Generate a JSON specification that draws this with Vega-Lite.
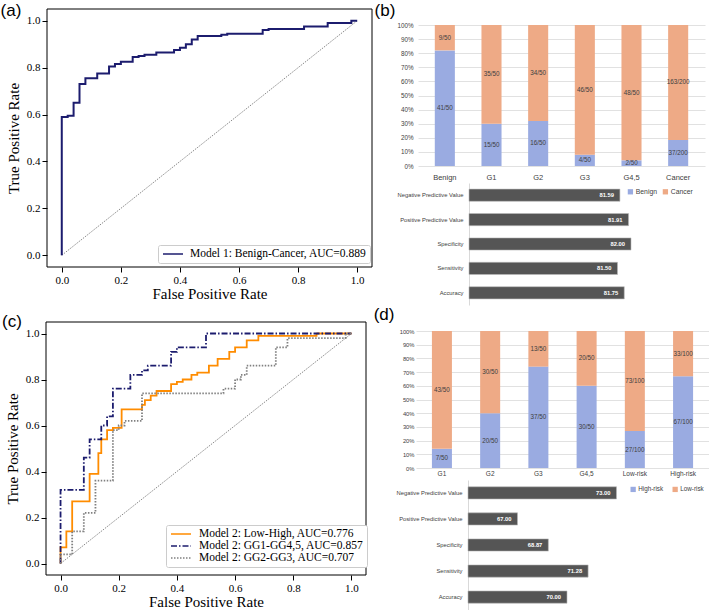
{
  "$schema": "https://vega.github.io/schema/vega-lite/v6.json",
  "width": 709,
  "height": 610,
  "autosize": {"type": "none"},
  "padding": 0,
  "background": "white",
  "config": {"view": {"stroke": null}},
  "datasets": {
    "one": [{"k": 1}],
    "diag": [{"x": 0, "y": 0}, {"x": 1, "y": 1}],
    "roc_a": [
      {"i": 0, "x": 0, "y": 0, "model": "Model 1: Benign-Cancer, AUC=0.889"},
      {"i": 1, "x": 0, "y": 0.59, "model": "Model 1: Benign-Cancer, AUC=0.889"},
      {"i": 2, "x": 0.02, "y": 0.595, "model": "Model 1: Benign-Cancer, AUC=0.889"},
      {"i": 3, "x": 0.04, "y": 0.65, "model": "Model 1: Benign-Cancer, AUC=0.889"},
      {"i": 4, "x": 0.06, "y": 0.73, "model": "Model 1: Benign-Cancer, AUC=0.889"},
      {"i": 5, "x": 0.08, "y": 0.755, "model": "Model 1: Benign-Cancer, AUC=0.889"},
      {"i": 6, "x": 0.12, "y": 0.775, "model": "Model 1: Benign-Cancer, AUC=0.889"},
      {"i": 7, "x": 0.16, "y": 0.805, "model": "Model 1: Benign-Cancer, AUC=0.889"},
      {"i": 8, "x": 0.18, "y": 0.815, "model": "Model 1: Benign-Cancer, AUC=0.889"},
      {"i": 9, "x": 0.2, "y": 0.825, "model": "Model 1: Benign-Cancer, AUC=0.889"},
      {"i": 10, "x": 0.24, "y": 0.845, "model": "Model 1: Benign-Cancer, AUC=0.889"},
      {"i": 11, "x": 0.26, "y": 0.85, "model": "Model 1: Benign-Cancer, AUC=0.889"},
      {"i": 12, "x": 0.28, "y": 0.855, "model": "Model 1: Benign-Cancer, AUC=0.889"},
      {"i": 13, "x": 0.32, "y": 0.865, "model": "Model 1: Benign-Cancer, AUC=0.889"},
      {"i": 14, "x": 0.38, "y": 0.875, "model": "Model 1: Benign-Cancer, AUC=0.889"},
      {"i": 15, "x": 0.4, "y": 0.885, "model": "Model 1: Benign-Cancer, AUC=0.889"},
      {"i": 16, "x": 0.42, "y": 0.9, "model": "Model 1: Benign-Cancer, AUC=0.889"},
      {"i": 17, "x": 0.44, "y": 0.92, "model": "Model 1: Benign-Cancer, AUC=0.889"},
      {"i": 18, "x": 0.46, "y": 0.935, "model": "Model 1: Benign-Cancer, AUC=0.889"},
      {"i": 19, "x": 0.54, "y": 0.94, "model": "Model 1: Benign-Cancer, AUC=0.889"},
      {"i": 20, "x": 0.56, "y": 0.945, "model": "Model 1: Benign-Cancer, AUC=0.889"},
      {"i": 21, "x": 0.68, "y": 0.96, "model": "Model 1: Benign-Cancer, AUC=0.889"},
      {"i": 22, "x": 0.7, "y": 0.965, "model": "Model 1: Benign-Cancer, AUC=0.889"},
      {"i": 23, "x": 0.82, "y": 0.975, "model": "Model 1: Benign-Cancer, AUC=0.889"},
      {"i": 24, "x": 0.9, "y": 0.99, "model": "Model 1: Benign-Cancer, AUC=0.889"},
      {"i": 25, "x": 0.98, "y": 1.0, "model": "Model 1: Benign-Cancer, AUC=0.889"},
      {"i": 26, "x": 1.0, "y": 1.0, "model": "Model 1: Benign-Cancer, AUC=0.889"}
    ],
    "roc_c": [
      {"i": 0, "x": 0, "y": 0, "model": "Model 2: Low-High, AUC=0.776"},
      {"i": 1, "x": 0, "y": 0.07, "model": "Model 2: Low-High, AUC=0.776"},
      {"i": 2, "x": 0.02, "y": 0.14, "model": "Model 2: Low-High, AUC=0.776"},
      {"i": 3, "x": 0.04, "y": 0.27, "model": "Model 2: Low-High, AUC=0.776"},
      {"i": 4, "x": 0.1, "y": 0.39, "model": "Model 2: Low-High, AUC=0.776"},
      {"i": 5, "x": 0.13, "y": 0.48, "model": "Model 2: Low-High, AUC=0.776"},
      {"i": 6, "x": 0.14, "y": 0.54, "model": "Model 2: Low-High, AUC=0.776"},
      {"i": 7, "x": 0.16, "y": 0.58, "model": "Model 2: Low-High, AUC=0.776"},
      {"i": 8, "x": 0.18, "y": 0.59, "model": "Model 2: Low-High, AUC=0.776"},
      {"i": 9, "x": 0.21, "y": 0.67, "model": "Model 2: Low-High, AUC=0.776"},
      {"i": 10, "x": 0.28, "y": 0.69, "model": "Model 2: Low-High, AUC=0.776"},
      {"i": 11, "x": 0.29, "y": 0.71, "model": "Model 2: Low-High, AUC=0.776"},
      {"i": 12, "x": 0.31, "y": 0.73, "model": "Model 2: Low-High, AUC=0.776"},
      {"i": 13, "x": 0.33, "y": 0.75, "model": "Model 2: Low-High, AUC=0.776"},
      {"i": 14, "x": 0.38, "y": 0.78, "model": "Model 2: Low-High, AUC=0.776"},
      {"i": 15, "x": 0.4, "y": 0.79, "model": "Model 2: Low-High, AUC=0.776"},
      {"i": 16, "x": 0.42, "y": 0.8, "model": "Model 2: Low-High, AUC=0.776"},
      {"i": 17, "x": 0.45, "y": 0.82, "model": "Model 2: Low-High, AUC=0.776"},
      {"i": 18, "x": 0.47, "y": 0.83, "model": "Model 2: Low-High, AUC=0.776"},
      {"i": 19, "x": 0.51, "y": 0.86, "model": "Model 2: Low-High, AUC=0.776"},
      {"i": 20, "x": 0.54, "y": 0.89, "model": "Model 2: Low-High, AUC=0.776"},
      {"i": 21, "x": 0.58, "y": 0.92, "model": "Model 2: Low-High, AUC=0.776"},
      {"i": 22, "x": 0.6, "y": 0.94, "model": "Model 2: Low-High, AUC=0.776"},
      {"i": 23, "x": 0.64, "y": 0.97, "model": "Model 2: Low-High, AUC=0.776"},
      {"i": 24, "x": 0.68, "y": 0.99, "model": "Model 2: Low-High, AUC=0.776"},
      {"i": 25, "x": 0.88, "y": 1.0, "model": "Model 2: Low-High, AUC=0.776"},
      {"i": 26, "x": 1.0, "y": 1.0, "model": "Model 2: Low-High, AUC=0.776"},
      {"i": 0, "x": 0, "y": 0, "model": "Model 2: GG1-GG4,5, AUC=0.857"},
      {"i": 1, "x": 0, "y": 0.32, "model": "Model 2: GG1-GG4,5, AUC=0.857"},
      {"i": 2, "x": 0.08, "y": 0.46, "model": "Model 2: GG1-GG4,5, AUC=0.857"},
      {"i": 3, "x": 0.1, "y": 0.54, "model": "Model 2: GG1-GG4,5, AUC=0.857"},
      {"i": 4, "x": 0.14, "y": 0.6, "model": "Model 2: GG1-GG4,5, AUC=0.857"},
      {"i": 5, "x": 0.16, "y": 0.64, "model": "Model 2: GG1-GG4,5, AUC=0.857"},
      {"i": 6, "x": 0.18, "y": 0.76, "model": "Model 2: GG1-GG4,5, AUC=0.857"},
      {"i": 7, "x": 0.24, "y": 0.82, "model": "Model 2: GG1-GG4,5, AUC=0.857"},
      {"i": 8, "x": 0.28, "y": 0.84, "model": "Model 2: GG1-GG4,5, AUC=0.857"},
      {"i": 9, "x": 0.3, "y": 0.86, "model": "Model 2: GG1-GG4,5, AUC=0.857"},
      {"i": 10, "x": 0.38, "y": 0.92, "model": "Model 2: GG1-GG4,5, AUC=0.857"},
      {"i": 11, "x": 0.4, "y": 0.94, "model": "Model 2: GG1-GG4,5, AUC=0.857"},
      {"i": 12, "x": 0.5, "y": 1.0, "model": "Model 2: GG1-GG4,5, AUC=0.857"},
      {"i": 13, "x": 1.0, "y": 1.0, "model": "Model 2: GG1-GG4,5, AUC=0.857"},
      {"i": 0, "x": 0, "y": 0, "model": "Model 2: GG2-GG3, AUC=0.707"},
      {"i": 1, "x": 0, "y": 0.04, "model": "Model 2: GG2-GG3, AUC=0.707"},
      {"i": 2, "x": 0.04, "y": 0.14, "model": "Model 2: GG2-GG3, AUC=0.707"},
      {"i": 3, "x": 0.08, "y": 0.22, "model": "Model 2: GG2-GG3, AUC=0.707"},
      {"i": 4, "x": 0.12, "y": 0.36, "model": "Model 2: GG2-GG3, AUC=0.707"},
      {"i": 5, "x": 0.18, "y": 0.58, "model": "Model 2: GG2-GG3, AUC=0.707"},
      {"i": 6, "x": 0.2, "y": 0.6, "model": "Model 2: GG2-GG3, AUC=0.707"},
      {"i": 7, "x": 0.22, "y": 0.62, "model": "Model 2: GG2-GG3, AUC=0.707"},
      {"i": 8, "x": 0.28, "y": 0.74, "model": "Model 2: GG2-GG3, AUC=0.707"},
      {"i": 9, "x": 0.56, "y": 0.76, "model": "Model 2: GG2-GG3, AUC=0.707"},
      {"i": 10, "x": 0.6, "y": 0.8, "model": "Model 2: GG2-GG3, AUC=0.707"},
      {"i": 11, "x": 0.62, "y": 0.82, "model": "Model 2: GG2-GG3, AUC=0.707"},
      {"i": 12, "x": 0.64, "y": 0.86, "model": "Model 2: GG2-GG3, AUC=0.707"},
      {"i": 13, "x": 0.74, "y": 0.94, "model": "Model 2: GG2-GG3, AUC=0.707"},
      {"i": 14, "x": 0.78, "y": 0.98, "model": "Model 2: GG2-GG3, AUC=0.707"},
      {"i": 15, "x": 0.98, "y": 1.0, "model": "Model 2: GG2-GG3, AUC=0.707"},
      {"i": 16, "x": 1.0, "y": 1.0, "model": "Model 2: GG2-GG3, AUC=0.707"}
    ],
    "b_stack": [
      {"cat": "Benign", "pred": "Benign", "n": 41, "total": 50},
      {"cat": "Benign", "pred": "Cancer", "n": 9, "total": 50},
      {"cat": "G1", "pred": "Benign", "n": 15, "total": 50},
      {"cat": "G1", "pred": "Cancer", "n": 35, "total": 50},
      {"cat": "G2", "pred": "Benign", "n": 16, "total": 50},
      {"cat": "G2", "pred": "Cancer", "n": 34, "total": 50},
      {"cat": "G3", "pred": "Benign", "n": 4, "total": 50},
      {"cat": "G3", "pred": "Cancer", "n": 46, "total": 50},
      {"cat": "G4,5", "pred": "Benign", "n": 2, "total": 50},
      {"cat": "G4,5", "pred": "Cancer", "n": 48, "total": 50},
      {"cat": "Cancer", "pred": "Benign", "n": 37, "total": 200},
      {"cat": "Cancer", "pred": "Cancer", "n": 163, "total": 200}
    ],
    "b_metrics": [
      {"metric": "Negative Predictive Value", "value": 81.59},
      {"metric": "Positive Predictive Value", "value": 81.91},
      {"metric": "Specificity", "value": 82.0},
      {"metric": "Sensitivity", "value": 81.5},
      {"metric": "Accuracy", "value": 81.75}
    ],
    "d_stack": [
      {"cat": "G1", "pred": "High-risk", "n": 7, "total": 50},
      {"cat": "G1", "pred": "Low-risk", "n": 43, "total": 50},
      {"cat": "G2", "pred": "High-risk", "n": 20, "total": 50},
      {"cat": "G2", "pred": "Low-risk", "n": 30, "total": 50},
      {"cat": "G3", "pred": "High-risk", "n": 37, "total": 50},
      {"cat": "G3", "pred": "Low-risk", "n": 13, "total": 50},
      {"cat": "G4,5", "pred": "High-risk", "n": 30, "total": 50},
      {"cat": "G4,5", "pred": "Low-risk", "n": 20, "total": 50},
      {"cat": "Low-risk", "pred": "High-risk", "n": 27, "total": 100},
      {"cat": "Low-risk", "pred": "Low-risk", "n": 73, "total": 100},
      {"cat": "High-risk", "pred": "High-risk", "n": 67, "total": 100},
      {"cat": "High-risk", "pred": "Low-risk", "n": 33, "total": 100}
    ],
    "d_metrics": [
      {"metric": "Negative Predictive Value", "value": 73.0},
      {"metric": "Positive Predictive Value", "value": 67.0},
      {"metric": "Specificity", "value": 68.87},
      {"metric": "Sensitivity", "value": 71.28},
      {"metric": "Accuracy", "value": 70.0}
    ]
  },
  "layer": [
    {
      "layer": [
        {
          "data": {"name": "one"},
          "mark": {"type": "rect", "fill": "transparent", "stroke": "black", "strokeWidth": 1},
          "encoding": {
            "x": {"datum": -0.05, "type": "quantitative",
              "scale": {"domain": [-0.05, 1.05], "range": [47, 372], "nice": false, "zero": false},
              "axis": {"orient": "bottom", "offset": -343, "values": [0, 0.2, 0.4, 0.6, 0.8, 1], "format": ".1f", "domain": false, "grid": false, "tickSize": 5, "tickColor": "black", "labelFont": "Liberation Serif", "labelFontSize": 11, "labelColor": "black", "labelPadding": 2, "labelFlush": false, "title": "False Positive Rate", "titleFont": "Liberation Serif", "titleFontSize": 15, "titleFontWeight": "normal", "titleColor": "black", "titlePadding": 1}},
            "x2": {"datum": 1.05},
            "y": {"datum": -0.05, "type": "quantitative",
              "scale": {"domain": [-0.05, 1.05], "range": [267, 9], "nice": false, "zero": false},
              "axis": {"orient": "left", "offset": -47, "values": [0, 0.2, 0.4, 0.6, 0.8, 1], "format": ".1f", "domain": false, "grid": false, "tickSize": 5, "tickColor": "black", "labelFont": "Liberation Serif", "labelFontSize": 11, "labelColor": "black", "labelPadding": 2, "labelFlush": false, "minExtent": 0, "title": "True Positive Rate", "titleFont": "Liberation Serif", "titleFontSize": 15, "titleFontWeight": "normal", "titleColor": "black", "titlePadding": 5}},
            "y2": {"datum": 1.05}
          }
        },
        {
          "data": {"name": "diag"},
          "mark": {"type": "line", "color": "#555555", "strokeWidth": 0.7, "strokeDash": [1.5, 1.2]},
          "encoding": {
            "x": {"field": "x", "type": "quantitative"},
            "y": {"field": "y", "type": "quantitative"}
          }
        },
        {
          "data": {"name": "roc_a"},
          "mark": {"type": "line", "interpolate": "step-after", "strokeWidth": 2},
          "encoding": {
            "x": {"field": "x", "type": "quantitative"},
            "y": {"field": "y", "type": "quantitative"},
            "order": {"field": "i", "type": "quantitative"},
            "color": {"field": "model", "type": "nominal", "scale": {"range": ["#1c1c6e"]},
              "legend": {"orient": "none", "legendX": 158, "legendY": 245, "title": null, "strokeColor": "#cccccc", "fillColor": "white", "padding": 3, "cornerRadius": 2, "symbolType": "M-0.8,0H3.2", "symbolSize": 100, "symbolStrokeWidth": 1.5, "labelFont": "Liberation Serif", "labelFontSize": 11.5, "labelColor": "black", "labelOffset": 17, "labelLimit": 400}}
          }
        },
        {
          "data": {"name": "one"},
          "mark": {"type": "text", "font": "Liberation Sans", "fontSize": 17, "align": "center", "baseline": "middle", "color": "black"},
          "encoding": {
            "x": {"datum": -0.172, "type": "quantitative"},
            "y": {"datum": 1.043, "type": "quantitative"},
            "text": {"value": "(a)"}
          }
        },
        {
          "data": {"name": "one"},
          "mark": {"type": "text", "font": "Liberation Sans", "fontSize": 17, "align": "center", "baseline": "middle", "color": "black"},
          "encoding": {
            "x": {"datum": 1.094, "type": "quantitative"},
            "y": {"datum": 1.04, "type": "quantitative"},
            "text": {"value": "(b)"}
          }
        }
      ]
    },
    {
      "data": {"name": "b_stack"},
      "layer": [
        {
          "mark": {"type": "bar"},
          "encoding": {
            "x": {"field": "cat", "type": "nominal", "sort": null,
              "scale": {"domain": ["Benign", "G1", "G2", "G3", "G4,5", "Cancer"], "range": [418, 705], "paddingInner": 0.57, "paddingOuter": 0.36},
              "axis": {"orient": "bottom", "offset": -444, "domain": false, "ticks": false, "grid": false, "labelAngle": 0, "labelFont": "Liberation Sans", "labelFontSize": 7.5, "labelColor": "#404040", "labelPadding": 7, "title": null}},
            "y": {"field": "n", "type": "quantitative", "stack": "normalize",
              "scale": {"domain": [0, 1], "range": [166, 25], "nice": false},
              "axis": {"orient": "left", "offset": -418, "values": [0, 0.1, 0.2, 0.3, 0.4, 0.5, 0.6, 0.7, 0.8, 0.9, 1], "format": ".0%", "domain": false, "ticks": false, "grid": true, "gridColor": "#d9d9d9", "gridWidth": 0.8, "labelFont": "Liberation Sans", "labelFontSize": 6.3, "labelColor": "#404040", "labelPadding": 5, "labelFlush": false, "minExtent": 0, "title": null}},
            "order": {"field": "pred", "type": "nominal", "sort": "ascending"},
            "color": {"field": "pred", "type": "nominal",
              "scale": {"domain": ["Benign", "Cancer"], "range": ["#9aabe1", "#eeaa86"]},
              "legend": {"orient": "none", "legendX": 627, "legendY": 188, "direction": "horizontal", "title": null, "symbolType": "square", "symbolSize": 28, "symbolStrokeWidth": 0, "labelFont": "Liberation Sans", "labelFontSize": 6.8, "labelColor": "#404040", "columnPadding": 5, "labelOffset": 2}}
          }
        },
        {
          "transform": [
            {"stack": "n", "groupby": ["cat"], "sort": [{"field": "pred", "order": "ascending"}], "offset": "normalize", "as": ["s0", "s1"]},
            {"calculate": "(datum.s0 + datum.s1) / 2", "as": "mid"},
            {"calculate": "datum.n + '/' + datum.total", "as": "lbl"}
          ],
          "mark": {"type": "text", "font": "Liberation Sans", "fontSize": 6.3, "color": "#404040", "baseline": "middle"},
          "encoding": {
            "x": {"field": "cat", "type": "nominal", "sort": null},
            "y": {"field": "mid", "type": "quantitative"},
            "text": {"field": "lbl"}
          }
        }
      ]
    },
    {
      "data": {"name": "b_metrics"},
      "layer": [
        {
          "mark": {"type": "bar", "color": "#555555", "stroke": "#bbbbbb", "strokeWidth": 0.6},
          "encoding": {
            "y": {"field": "metric", "type": "nominal", "sort": null,
              "scale": {"domain": ["Negative Predictive Value", "Positive Predictive Value", "Specificity", "Sensitivity", "Accuracy"], "range": [183, 305], "paddingInner": 0.5, "paddingOuter": 0.25},
              "axis": {"orient": "left", "offset": -469, "domain": true, "domainColor": "#d9d9d9", "ticks": false, "grid": false, "labelFont": "Liberation Sans", "labelFontSize": 5.8, "labelColor": "#404040", "labelPadding": 6, "minExtent": 0, "title": null}},
            "x": {"field": "value", "type": "quantitative",
              "scale": {"domain": [76, 84], "range": [469, 685], "nice": false, "zero": false}, "axis": null},
            "x2": {"datum": 76}
          }
        },
        {
          "mark": {"type": "text", "align": "right", "dx": -6, "baseline": "middle", "color": "white", "fontWeight": "bold", "font": "Liberation Sans", "fontSize": 5.8},
          "encoding": {
            "y": {"field": "metric", "type": "nominal", "sort": null},
            "x": {"field": "value", "type": "quantitative", "axis": null},
            "text": {"field": "value", "type": "quantitative", "format": ".2f"}
          }
        }
      ]
    },
    {
      "layer": [
        {
          "data": {"name": "one"},
          "mark": {"type": "rect", "fill": "transparent", "stroke": "black", "strokeWidth": 1},
          "encoding": {
            "x": {"datum": -0.05, "type": "quantitative",
              "scale": {"domain": [-0.05, 1.05], "range": [46, 366], "nice": false, "zero": false},
              "axis": {"orient": "bottom", "offset": -35, "values": [0, 0.2, 0.4, 0.6, 0.8, 1], "format": ".1f", "domain": false, "grid": false, "tickSize": 5, "tickColor": "black", "labelFont": "Liberation Serif", "labelFontSize": 11, "labelColor": "black", "labelPadding": 2, "labelFlush": false, "title": "False Positive Rate", "titleFont": "Liberation Serif", "titleFontSize": 15, "titleFontWeight": "normal", "titleColor": "black", "titlePadding": 1}},
            "x2": {"datum": 1.05},
            "y": {"datum": -0.05, "type": "quantitative",
              "scale": {"domain": [-0.05, 1.05], "range": [575, 322], "nice": false, "zero": false},
              "axis": {"orient": "left", "offset": -46, "values": [0, 0.2, 0.4, 0.6, 0.8, 1], "format": ".1f", "domain": false, "grid": false, "tickSize": 5, "tickColor": "black", "labelFont": "Liberation Serif", "labelFontSize": 11, "labelColor": "black", "labelPadding": 2, "labelFlush": false, "minExtent": 0, "title": "True Positive Rate", "titleFont": "Liberation Serif", "titleFontSize": 15, "titleFontWeight": "normal", "titleColor": "black", "titlePadding": 5}},
            "y2": {"datum": 1.05}
          }
        },
        {
          "data": {"name": "diag"},
          "mark": {"type": "line", "color": "#555555", "strokeWidth": 0.7, "strokeDash": [1.5, 1.2]},
          "encoding": {
            "x": {"field": "x", "type": "quantitative"},
            "y": {"field": "y", "type": "quantitative"}
          }
        },
        {
          "data": {"name": "roc_c"},
          "mark": {"type": "line", "interpolate": "step-after", "strokeWidth": 1.8},
          "encoding": {
            "x": {"field": "x", "type": "quantitative"},
            "y": {"field": "y", "type": "quantitative"},
            "order": {"field": "i", "type": "quantitative"},
            "color": {"field": "model", "type": "nominal",
              "scale": {"domain": ["Model 2: Low-High, AUC=0.776", "Model 2: GG1-GG4,5, AUC=0.857", "Model 2: GG2-GG3, AUC=0.707"], "range": ["#ff8c00", "#1c1c6e", "#808080"]},
              "legend": {"orient": "none", "legendX": 166, "legendY": 525, "title": null, "strokeColor": "#cccccc", "fillColor": "white", "padding": 3, "cornerRadius": 2, "symbolType": "M-0.8,0H3.2", "symbolSize": 100, "symbolStrokeWidth": 1.5, "labelFont": "Liberation Serif", "labelFontSize": 11.5, "labelColor": "black", "labelOffset": 18, "labelLimit": 400, "rowPadding": 0}},
            "strokeDash": {"field": "model", "type": "nominal",
              "scale": {"domain": ["Model 2: Low-High, AUC=0.776", "Model 2: GG1-GG4,5, AUC=0.857", "Model 2: GG2-GG3, AUC=0.707"], "range": [[1, 0], [6, 2, 1.5, 2], [1.5, 1.5]]},
              "legend": {"orient": "none", "legendX": 166, "legendY": 525, "title": null, "strokeColor": "#cccccc", "fillColor": "white", "padding": 3, "cornerRadius": 2, "symbolType": "M-0.8,0H3.2", "symbolSize": 100, "symbolStrokeWidth": 1.5, "labelFont": "Liberation Serif", "labelFontSize": 11.5, "labelColor": "black", "labelOffset": 18, "labelLimit": 400, "rowPadding": 0}}
          }
        },
        {
          "data": {"name": "one"},
          "mark": {"type": "text", "font": "Liberation Sans", "fontSize": 17, "align": "center", "baseline": "middle", "color": "black"},
          "encoding": {
            "x": {"datum": -0.167, "type": "quantitative"},
            "y": {"datum": 1.05, "type": "quantitative"},
            "text": {"value": "(c)"}
          }
        },
        {
          "data": {"name": "one"},
          "mark": {"type": "text", "font": "Liberation Sans", "fontSize": 17, "align": "center", "baseline": "middle", "color": "black"},
          "encoding": {
            "x": {"datum": 1.112, "type": "quantitative"},
            "y": {"datum": 1.08, "type": "quantitative"},
            "text": {"value": "(d)"}
          }
        }
      ]
    },
    {
      "data": {"name": "d_stack"},
      "layer": [
        {
          "mark": {"type": "bar"},
          "encoding": {
            "x": {"field": "cat", "type": "nominal", "sort": null,
              "scale": {"domain": ["G1", "G2", "G3", "G4,5", "Low-risk", "High-risk"], "range": [416, 709], "paddingInner": 0.585, "paddingOuter": 0.33},
              "axis": {"orient": "bottom", "offset": -142, "domain": false, "ticks": false, "grid": false, "labelAngle": 0, "labelFont": "Liberation Sans", "labelFontSize": 6.5, "labelColor": "#404040", "labelPadding": 2, "title": null}},
            "y": {"field": "n", "type": "quantitative", "stack": "normalize",
              "scale": {"domain": [0, 1], "range": [468, 331], "nice": false},
              "axis": {"orient": "left", "offset": -416, "values": [0, 0.1, 0.2, 0.3, 0.4, 0.5, 0.6, 0.7, 0.8, 0.9, 1], "format": ".0%", "domain": false, "ticks": false, "grid": true, "gridColor": "#d9d9d9", "gridWidth": 0.8, "labelFont": "Liberation Sans", "labelFontSize": 5.8, "labelColor": "#404040", "labelPadding": 2, "labelFlush": false, "minExtent": 0, "title": null}},
            "order": {"field": "pred", "type": "nominal", "sort": "ascending"},
            "color": {"field": "pred", "type": "nominal",
              "scale": {"domain": ["High-risk", "Low-risk"], "range": ["#9aabe1", "#eeaa86"]},
              "legend": {"orient": "none", "legendX": 630, "legendY": 486, "direction": "horizontal", "title": null, "symbolType": "square", "symbolSize": 28, "symbolStrokeWidth": 0, "labelFont": "Liberation Sans", "labelFontSize": 6.3, "labelColor": "#404040", "columnPadding": 8, "labelOffset": 2}}
          }
        },
        {
          "transform": [
            {"stack": "n", "groupby": ["cat"], "sort": [{"field": "pred", "order": "ascending"}], "offset": "normalize", "as": ["s0", "s1"]},
            {"calculate": "(datum.s0 + datum.s1) / 2", "as": "mid"},
            {"calculate": "datum.n + '/' + datum.total", "as": "lbl"}
          ],
          "mark": {"type": "text", "font": "Liberation Sans", "fontSize": 6.3, "color": "#404040", "baseline": "middle"},
          "encoding": {
            "x": {"field": "cat", "type": "nominal", "sort": null},
            "y": {"field": "mid", "type": "quantitative"},
            "text": {"field": "lbl"}
          }
        }
      ]
    },
    {
      "data": {"name": "d_metrics"},
      "layer": [
        {
          "mark": {"type": "bar", "color": "#555555", "stroke": "#bbbbbb", "strokeWidth": 0.6},
          "encoding": {
            "y": {"field": "metric", "type": "nominal", "sort": null,
              "scale": {"domain": ["Negative Predictive Value", "Positive Predictive Value", "Specificity", "Sensitivity", "Accuracy"], "range": [480, 610], "paddingInner": 0.53, "paddingOuter": 0.26},
              "axis": {"orient": "left", "offset": -468, "domain": true, "domainColor": "#d9d9d9", "ticks": false, "grid": false, "labelFont": "Liberation Sans", "labelFontSize": 5.8, "labelColor": "#404040", "labelPadding": 6, "minExtent": 0, "title": null}},
            "x": {"field": "value", "type": "quantitative",
              "scale": {"domain": [64, 74], "range": [468, 633], "nice": false, "zero": false}, "axis": null},
            "x2": {"datum": 64}
          }
        },
        {
          "mark": {"type": "text", "align": "right", "dx": -6, "baseline": "middle", "color": "white", "fontWeight": "bold", "font": "Liberation Sans", "fontSize": 5.8},
          "encoding": {
            "y": {"field": "metric", "type": "nominal", "sort": null},
            "x": {"field": "value", "type": "quantitative", "axis": null},
            "text": {"field": "value", "type": "quantitative", "format": ".2f"}
          }
        }
      ]
    }
  ],
  "resolve": {
    "scale": {"x": "independent", "y": "independent", "color": "independent", "strokeDash": "independent"},
    "axis": {"x": "independent", "y": "independent"},
    "legend": {"color": "independent", "strokeDash": "independent"}
  }
}
